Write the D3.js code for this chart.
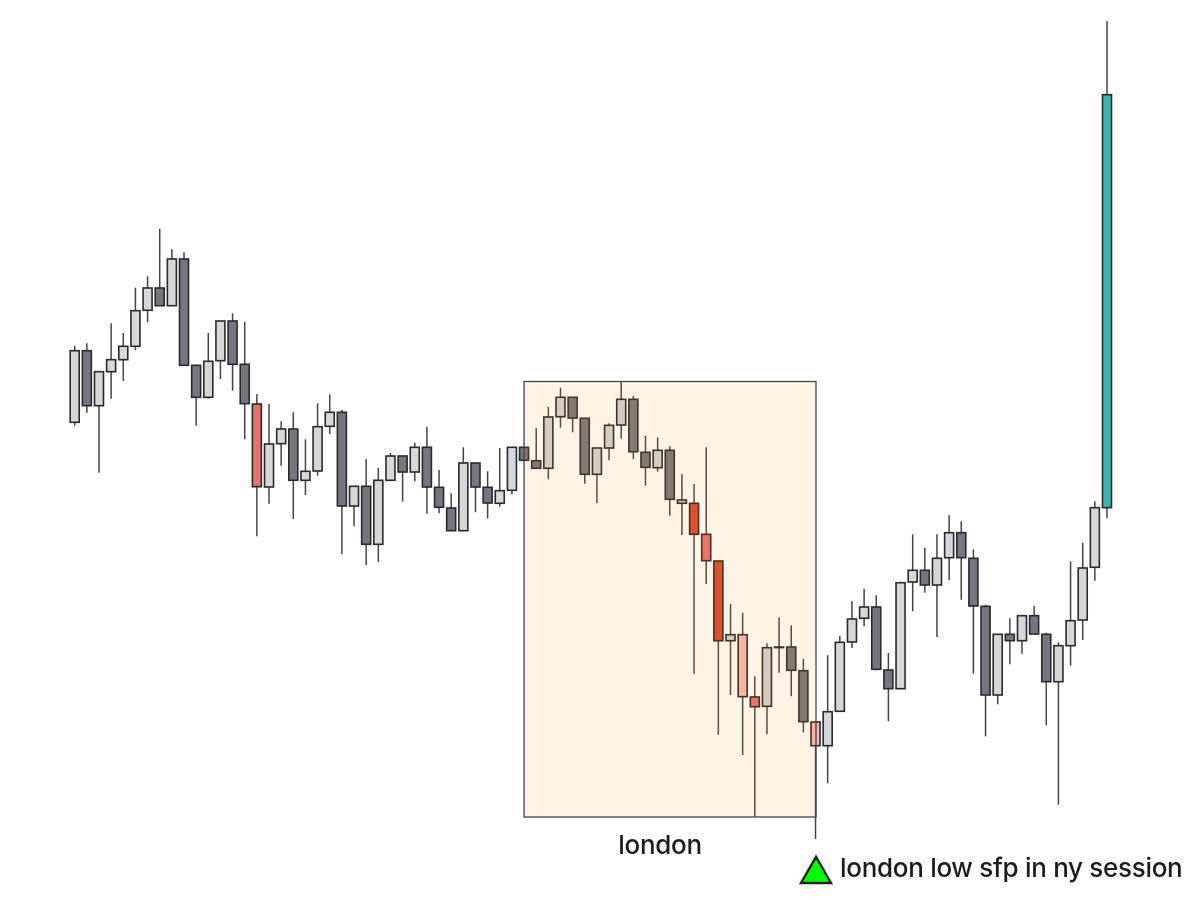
<!DOCTYPE html>
<html>
<head>
<meta charset="utf-8">
<script src="https://cdn.jsdelivr.net/npm/d3@7"></script>
<style>
html,body{margin:0;padding:0;background:#fff}
svg{display:block;filter:blur(0.45px)}
text{font-family:Inter,"Noto Sans",sans-serif;fill:#1c1c1e;font-weight:500}
</style>
</head>
<body>
<svg id="chart" width="1200" height="900"></svg>
<script>
const opens  = [477.7,549.3,494.3,528.3,540.3,553.7,589.7,612,594.3,641,534.7,502.7,539.3,579,535.7,496,413,456.3,471,419.7,429,473.7,487.7,394,413.7,355.7,419.7,444,428,452.7,412.7,392,369.3,437,412.7,396.7,409.7,452.7,439.3,431.7,483.3,502.7,481.7,425.7,452,475,500.7,447.7,432.3,449.7,400,396.7,365.7,339,259.3,265.3,203,193.7,253,253,229.3,178,154.3,188.7,258,281.7,293,230,211.3,318,329.7,315,342.3,367.3,341.7,293.7,205,265.7,259.3,284.3,265.7,218.3,254.3,280,332.7,392.3];
const closes = [549.3,494.3,528.3,540.3,553.7,589.3,612,594.3,641,534.7,502.7,538.7,579,535.7,496.3,413.3,456,471,419.7,428.7,473.3,487.7,394,413.7,355.7,419.7,444,428,452.7,413,392.7,369.3,437,413,397,409.3,452.7,439.7,431.7,483,502.7,482,425.7,452,474.7,500.7,448.3,432.7,449.7,400.7,396.7,365.7,339.3,259.3,265.3,203.3,193.3,252.3,253,229.7,178.3,154.3,188.3,257.7,281,293,230.7,211.3,317.3,329.7,315,341.7,367.3,342.3,294,205,265.7,259.3,284.3,266,218.3,254.3,279.3,332,392.3,805.3];
const highs  = [554.3,556.7,528.3,576.7,567,612.3,623.7,671.3,650.7,647.7,534.7,567,579,586.7,578.3,506,496,478.7,487.7,460.7,496.7,505.7,490,413.7,440.7,432.3,447,444,457.3,473.3,430,406.7,452.7,437,428.7,452,452.7,452.7,472,493,512.3,502.7,481.7,452,476.7,518.3,504,464.3,462.7,453.7,425.7,416,452.7,339,296,287.3,223.7,256.7,282.7,274.7,241.3,178,244.7,264,298.7,311.3,304.7,247,317.3,365.7,352,365.7,384.7,378.7,350.7,295.3,265.7,281.7,284.3,294,267.3,257.7,338.7,357.3,398.7,879];
const lows   = [474.3,487.3,427.3,501.3,519,549.7,577.7,594.3,594.3,534.7,474.3,501.3,521,509.3,460.7,363.7,396.3,434.3,381,405,424.3,466,346,373.7,335,338,419.7,398.3,418.7,386.3,386.7,369.3,369.3,387.7,381.7,393.3,405.7,439.7,431.7,420.7,472.3,467.7,416.3,397,439.7,461.3,440.7,414.3,428.3,384.3,365,226.3,316,165.3,205,145,83.3,165.7,227.3,203.7,167.7,61,116.7,188.7,252,273.7,229.7,178.7,211.3,288.7,307.3,263,319.7,300.3,226.3,163.7,195.7,235.7,246.3,266,174.7,95.3,234.3,260,319.3,381.7];
const strongRed = [51,53];
const mediumRed = [15,52,56];
const paleRed   = [50,55,61];
const tealUp    = [85];
const sessionName = "london";
const sessionStart = 37, sessionEnd = 61.04;
const sessionHigh = 518.5, sessionLow = 83;
const noteText = "london low sfp in ny session";

const colors = {up:"#d5d7db",down:"#747682",upIn:"#cdd3dc",downIn:"#767882",strong:"#dc4a35",medium:"#e7716b",pale:"#f6b8b6",teal:"#3eb3ad"};
const svg = d3.select("#chart");
const x = d3.scaleLinear().domain([0,85]).range([74.7,1107]);
const y = d3.scaleLinear().domain([0,900]).range([900,0]);
const bodyW = 9;

const candles = opens.map((o,i)=>({i,o,c:closes[i],h:highs[i],l:lows[i]}));
function fillOf(d){
  if(strongRed.includes(d.i)) return colors.strong;
  if(mediumRed.includes(d.i)) return colors.medium;
  if(paleRed.includes(d.i)) return colors.pale;
  if(tealUp.includes(d.i)) return colors.teal;
  const inside = d.i>=sessionStart && d.i<=sessionEnd;
  if(d.c>=d.o) return inside?colors.upIn:colors.up;
  return inside?colors.downIn:colors.down;
}

const g = svg.append("g");
g.selectAll("line.wick").data(candles).join("line").attr("class","wick")
  .attr("x1",d=>x(d.i)).attr("x2",d=>x(d.i))
  .attr("y1",d=>y(d.h)).attr("y2",d=>y(d.l))
  .attr("stroke","#444").attr("stroke-width",1.5);
g.selectAll("rect.body").data(candles).join("rect").attr("class","body")
  .attr("x",d=>x(d.i)-bodyW/2).attr("width",bodyW)
  .attr("y",d=>y(Math.max(d.o,d.c)))
  .attr("height",d=>Math.max(Math.abs(y(d.o)-y(d.c)),0.6))
  .attr("fill",fillOf).attr("stroke","#2a2a2a").attr("stroke-width",1.6);

const bx0=x(sessionStart), bx1=x(sessionEnd), by0=y(sessionHigh), by1=y(sessionLow);
svg.append("rect").attr("x",bx0).attr("y",by0).attr("width",bx1-bx0).attr("height",by1-by0)
  .attr("fill","rgb(255,152,0)").attr("fill-opacity",0.1).attr("stroke","#444").attr("stroke-width",1.3);

svg.append("text").attr("x",660).attr("y",854).attr("text-anchor","middle")
  .attr("font-size",26).attr("letter-spacing",-0.3).text(sessionName);

svg.append("path").attr("d",d3.symbol(d3.symbolTriangle,390)())
  .attr("transform",`translate(816,874.3)`)
  .attr("fill","#00ff00").attr("stroke","#222").attr("stroke-width",2.4);
svg.append("text").attr("x",840).attr("y",877)
  .attr("font-size",26).attr("letter-spacing",-0.3).text(noteText);
</script>
</body>
</html>
